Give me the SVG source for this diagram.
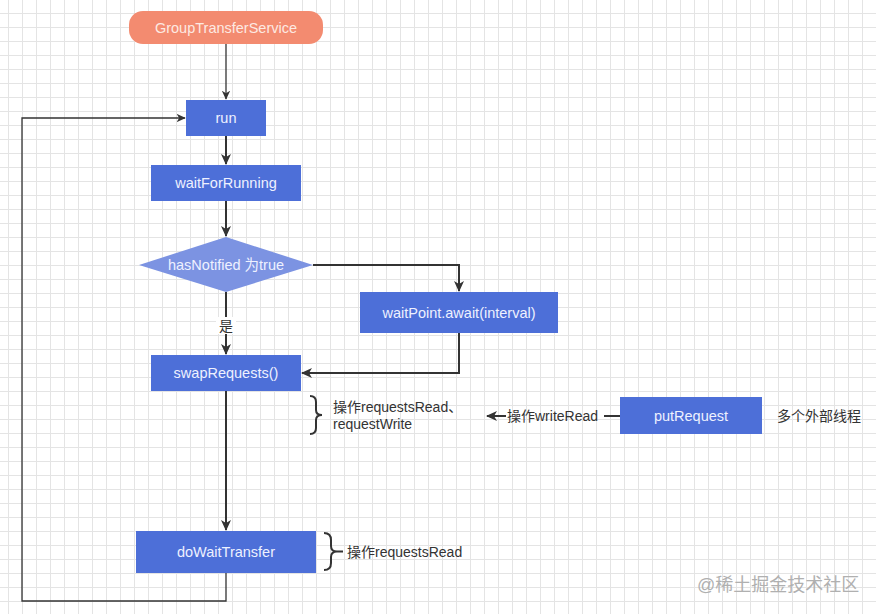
<svg xmlns="http://www.w3.org/2000/svg" width="876" height="614" viewBox="0 0 876 614">
<defs>
<pattern id="grid" x="8" y="13" width="14" height="14" patternUnits="userSpaceOnUse">
<path d="M0 0.5 H14 M0.5 0 V14" stroke="#e4e4e4" stroke-width="1" fill="none"/>
</pattern>
<marker id="arr" markerUnits="userSpaceOnUse" markerWidth="12" markerHeight="12" refX="10" refY="5" orient="auto" viewBox="0 0 12 10">
<path d="M0 0 L11 5 L0 10 L3 5 Z" fill="#333"/>
</marker>
<marker id="arrs" markerUnits="userSpaceOnUse" markerWidth="10" markerHeight="10" refX="10" refY="5" orient="auto" viewBox="0 0 12 10">
<path d="M0 0 L11 5 L0 10 L3 5 Z" fill="#333"/>
</marker>
<style>
.box{fill:#4d6fd8}
.t{font-family:"Liberation Sans","Noto Sans",Arial,"Noto Sans CJK SC",sans-serif;font-size:14.5px;fill:#eef1ff;text-anchor:middle;dominant-baseline:central}
.lbl{font-family:"Liberation Sans","Noto Sans",Arial,"Noto Sans CJK SC",sans-serif;font-size:14px;fill:#333;dominant-baseline:central}
.c{fill:none;stroke:#333;stroke-width:2}
.thin{fill:none;stroke:#333;stroke-width:1.3}
</style>
</defs>
<rect width="876" height="614" fill="#ffffff"/>
<rect width="876" height="614" fill="url(#grid)"/>

<g id="connectors">
<path class="thin" d="M226 44 V99" marker-end="url(#arrs)"/>
<path class="c" d="M226 136 V164" marker-end="url(#arr)"/>
<path class="c" d="M226 201 V236" marker-end="url(#arr)"/>
<path class="c" d="M313 265 H459 V291" marker-end="url(#arr)"/>
<path class="c" d="M226 292 V354" marker-end="url(#arr)"/>
<rect x="216" y="317" width="20" height="17" fill="#ffffff"/>
<text class="lbl" x="226" y="325.5" text-anchor="middle" font-size="13">是</text>
<path class="c" d="M459 333 V373 H302" marker-end="url(#arr)"/>
<path class="c" d="M226 391 V530" marker-end="url(#arr)"/>
<path class="thin" d="M226 573 V601 H22 V118 H185" marker-end="url(#arrs)"/>
<path class="c" d="M620 416 H604"/>
<path class="c" d="M506 416 H487" marker-end="url(#arr)"/>
<text class="lbl" x="507" y="416">操作writeRead</text>
<path class="c" d="M310 396 Q316 396 316 402 V410 Q316 415 322 415 Q316 415 316 420 V428 Q316 434 310 434" stroke-width="1.8"/>
<text class="lbl" x="333" y="407" font-size="13.5">操作requestsRead、</text>
<text class="lbl" x="333" y="424" font-size="13.5">requestWrite</text>
<path class="c" d="M324 533 Q331 533 331 540 V546 Q331 551.5 337 551.5 H343 M337 551.5 Q331 551.5 331 557 V563 Q331 570 324 570" stroke-width="1.8"/>
<text class="lbl" x="347" y="552" font-size="13.5">操作requestsRead</text>
</g>

<g id="GroupTransferService">
<rect x="129" y="11" width="194" height="33" rx="14" fill="#f38b70"/>
<text class="t" x="226" y="28" fill="#fde9e2" style="fill:#fde9e2">GroupTransferService</text>
</g>
<g id="run">
<rect class="box" x="186" y="100" width="80" height="36"/>
<text class="t" x="226" y="118">run</text>
</g>
<g id="waitForRunning">
<rect class="box" x="151" y="165" width="150" height="36"/>
<text class="t" x="226" y="183">waitForRunning</text>
</g>
<g id="hasNotified">
<path d="M226 237 L313 265 L226 292 L139 265 Z" fill="#7c93e2"/>
<text class="t" x="226" y="265">hasNotified 为true</text>
</g>
<g id="waitPoint">
<rect class="box" x="360" y="292" width="198" height="41"/>
<text class="t" x="459" y="312.5">waitPoint.await(interval)</text>
</g>
<g id="swapRequests">
<rect class="box" x="151" y="355" width="150" height="36"/>
<text class="t" x="226" y="373">swapRequests()</text>
</g>
<g id="putRequest">
<rect class="box" x="620" y="397" width="142" height="37"/>
<text class="t" x="691" y="415.5">putRequest</text>
</g>
<g id="externalThreads">
<text class="lbl" x="777" y="415.5">多个外部线程</text>
</g>
<g id="doWaitTransfer">
<rect class="box" x="136" y="531" width="180" height="42"/>
<text class="t" x="226" y="552">doWaitTransfer</text>
</g>
<text x="697" y="585" font-family="'Liberation Sans','Noto Sans CJK SC',sans-serif" font-size="18" fill="#b0b0b0" dominant-baseline="central">@稀土掘金技术社区</text>
</svg>
